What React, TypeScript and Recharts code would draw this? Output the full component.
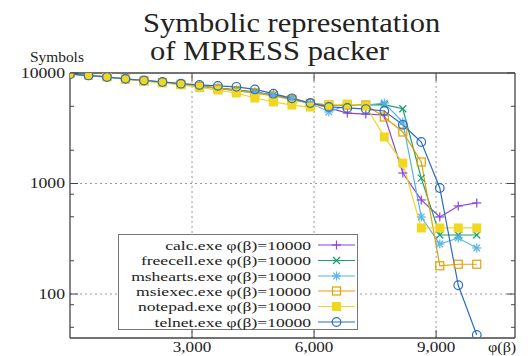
import { LineChart, Line, XAxis, YAxis, ReferenceLine } from "recharts";

// phi(beta) sample positions
const xs = [0, 455, 909, 1364, 1818, 2273, 2727, 3182, 3636, 4091, 4545, 5000, 5455, 5909, 6364, 6818, 7273, 7727, 8182, 8636, 9091, 9545, 10000];

const calc = [9800, 9500, 9200, 8820, 8550, 8290, 7950, 7630, 7310, 7010, 6720, 6320, 5810, 5350, 4830, 4340, 4250, 4170, 1245, 710, 498, 626, 667];
const freecell = [9800, 9500, 9200, 8820, 8550, 8290, 7950, 7630, 7310, 7050, 6720, 6320, 5810, 5300, 5130, 5130, 5150, 5180, 4750, 1120, 342, 342, 342];
const mshearts = [9750, 9450, 9150, 8800, 8500, 8250, 7900, 7600, 7250, 6900, 6600, 6300, 5900, 5350, 4440, 5130, 5130, 5350, 3600, 498, 283, 321, 261];
const msiexec = [9900, 9600, 9250, 8850, 8500, 8200, 7900, 7550, 7250, 6950, 6600, 6200, 5750, 5300, 5130, 5130, 5130, 4000, 2925, 1565, 180, 186, 186];
const notepad = [9900, 9600, 9300, 8800, 8450, 8150, 7800, 7400, 7010, 6590, 5940, 5470, 5130, 4920, 5130, 5240, 5030, 2640, 1530, 396, 396, 396, 396];
const telnet = [9750, 9500, 9200, 8850, 8550, 8300, 8000, 7800, 7650, 7500, 7100, 6500, 5900, 5350, 4930, 4830, 4720, 4530, 3400, 2375, 911, 120, 42.6];

const xTicks = [3000, 6000, 9000];
const yMajor = [100, 1000, 10000];
const yMinor = [50, 80, 200, 500, 800, 2000, 5000];

const series = [
  { key: "calc", label: "calc.exe φ(β)=10000", values: calc, color: "#8e44d6", shape: "plus" },
  { key: "freecell", label: "freecell.exe φ(β)=10000", values: freecell, color: "#1a9e73", shape: "cross" },
  { key: "mshearts", label: "mshearts.exe φ(β)=10000", values: mshearts, color: "#56b4e9", shape: "star" },
  { key: "msiexec", label: "msiexec.exe φ(β)=10000", values: msiexec, color: "#e69f00", shape: "square" },
  { key: "notepad", label: "notepad.exe φ(β)=10000", values: notepad, color: "#efd81f", shape: "fsquare" },
  { key: "telnet", label: "telnet.exe φ(β)=10000", values: telnet, color: "#2b6cc0", shape: "circle" },
];

const data = xs.map((x, i) => {
  const row: any = { x };
  series.forEach(s => { row[s.key] = s.values[i]; });
  return row;
});

const FONT = '"Liberation Serif", "Times New Roman", serif';
const serif = { fontFamily: FONT };
const TXT = "#222";
const AXIS = "#444";

function marker(shape: string, cx: number, cy: number, color: string, key?: any) {
  const sw = 1.2;
  const h = 4.5;
  switch (shape) {
    case "plus":
      return (
        <g key={key}>
          <line x1={cx - h} x2={cx + h} y1={cy} y2={cy} stroke={color} strokeWidth={sw} />
          <line x1={cx} x2={cx} y1={cy - h} y2={cy + h} stroke={color} strokeWidth={sw} />
        </g>
      );
    case "cross":
      return (
        <g key={key}>
          <line x1={cx - 3.5} x2={cx + 3.5} y1={cy - 3.5} y2={cy + 3.5} stroke={color} strokeWidth={sw} />
          <line x1={cx - 3.5} x2={cx + 3.5} y1={cy + 3.5} y2={cy - 3.5} stroke={color} strokeWidth={sw} />
        </g>
      );
    case "star":
      return (
        <g key={key}>
          <line x1={cx - h} x2={cx + h} y1={cy} y2={cy} stroke={color} strokeWidth={sw} />
          <line x1={cx} x2={cx} y1={cy - h} y2={cy + h} stroke={color} strokeWidth={sw} />
          <line x1={cx - 3.3} x2={cx + 3.3} y1={cy - 3.3} y2={cy + 3.3} stroke={color} strokeWidth={sw} />
          <line x1={cx - 3.3} x2={cx + 3.3} y1={cy + 3.3} y2={cy - 3.3} stroke={color} strokeWidth={sw} />
        </g>
      );
    case "square":
      return <rect key={key} x={cx - 4} y={cy - 4} width={8} height={8} fill="none" stroke={color} strokeWidth={sw} />;
    case "fsquare":
      return <rect key={key} x={cx - 4.5} y={cy - 4.5} width={9} height={9} fill={color} />;
    default:
      return <circle key={key} cx={cx} cy={cy} r={4.3} fill="none" stroke={color} strokeWidth={sw} />;
  }
}

const makeDot = (shape: string, color: string) => (props: any) => {
  const { cx, cy, index } = props;
  if (cx == null || cy == null) return <g key={index} />;
  return marker(shape, cx, cy, color, index);
};

const LeftTick = (props: any) => {
  const { x, y, payload } = props;
  const major = yMajor.includes(payload.value);
  return (
    <g>
      <line x1={x} x2={x + (major ? 8 : 4)} y1={y} y2={y} stroke={AXIS} strokeWidth={1} />
      {major && (
        <text transform={`translate(${x - 5},${y}) scale(1.22,1)`} textAnchor="end" dominantBaseline="central"
          style={serif} fontSize={14.5} fill={TXT}>{payload.value}</text>
      )}
    </g>
  );
};

const RightTick = (props: any) => {
  const { x, y, payload } = props;
  const major = yMajor.includes(payload.value);
  return <line x1={x} x2={x - (major ? 8 : 4)} y1={y} y2={y} stroke={AXIS} strokeWidth={1} />;
};

const BottomTick = (props: any) => {
  const { x, y, payload } = props;
  return (
    <g>
      <line x1={x} x2={x} y1={y} y2={y - 8} stroke={AXIS} strokeWidth={1} />
      <text transform={`translate(${x},${y + 9}) scale(1.22,1)`} textAnchor="middle" dominantBaseline="central"
        style={serif} fontSize={14} fill={TXT}>{payload.value.toLocaleString("en-US")}</text>
    </g>
  );
};

const TopTick = (props: any) => {
  const { x, y } = props;
  return <line x1={x} x2={x} y1={y} y2={y + 8} stroke={AXIS} strokeWidth={1} />;
};

const legendRows = [245, 260.5, 276, 291, 306.5, 322];

export default function App() {
  return (
    <div style={{ position: "relative", width: 528, height: 356, background: "#fff" }}>
      <style>{"body{margin:0}"}</style>
      <LineChart width={528} height={356} data={data} margin={{ top: 72, right: 12, bottom: 0, left: 8 }}>
        <XAxis dataKey="x" type="number" domain={[0, 10940]} ticks={xTicks} interval={0}
          allowDataOverflow height={18} tickSize={0} tickMargin={0} tickLine={false}
          axisLine={{ stroke: AXIS, strokeWidth: 1.3 }} tick={<BottomTick />} />
        <XAxis xAxisId="t" orientation="top" dataKey="x" type="number" domain={[0, 10940]} ticks={xTicks}
          interval={0} allowDataOverflow height={1} tickSize={0} tickMargin={0} tickLine={false}
          axisLine={{ stroke: AXIS, strokeWidth: 1.3 }} tick={<TopTick />} />
        <YAxis scale="log" type="number" domain={[40, 10000]} allowDataOverflow width={62}
          ticks={[...yMinor, ...yMajor]} interval={0} tickSize={0} tickMargin={0} tickLine={false}
          axisLine={{ stroke: AXIS, strokeWidth: 1.3 }} tick={<LeftTick />} />
        <YAxis yAxisId="r" orientation="right" scale="log" type="number" domain={[40, 10000]} allowDataOverflow
          width={1} ticks={[...yMinor, ...yMajor]} interval={0} tickSize={0} tickMargin={0} tickLine={false}
          axisLine={{ stroke: AXIS, strokeWidth: 1.3 }} tick={<RightTick />} />
        {xTicks.map(t => (
          <ReferenceLine key={"gx" + t} x={t} stroke="#999" strokeDasharray="2 3" strokeWidth={1} />
        ))}
        {[100, 1000].map(t => (
          <ReferenceLine key={"gy" + t} y={t} stroke="#999" strokeDasharray="2 3" strokeWidth={1} />
        ))}
        {series.map(s => (
          <Line key={s.key} type="linear" dataKey={s.key} stroke={s.color} strokeWidth={1.2}
            dot={makeDot(s.shape, s.color)} activeDot={false} isAnimationActive={false} />
        ))}
      </LineChart>
      <svg width={528} height={356} style={{ position: "absolute", left: 0, top: 0, pointerEvents: "none" }}>
        <text transform="translate(143,32) scale(1.13,1)" style={serif} fontSize={27} fill={TXT}>
          Symbolic representation
        </text>
        <text transform="translate(150,60) scale(1.13,1)" style={serif} fontSize={27} fill={TXT}>
          of MPRESS packer
        </text>
        <text transform="translate(30,62) scale(1.1,1)" style={serif} fontSize={14} fill={TXT}>Symbols</text>
        <text transform="translate(488,352) scale(1.15,1)" style={serif} fontSize={14} fill={TXT}>φ(β)</text>
        <rect x={118.5} y={234.5} width={239} height={95} fill="#fff" stroke="#777" strokeWidth={1} />
        {series.map((s, i) => {
          const y = legendRows[i];
          return (
            <g key={s.key}>
              <text transform={`translate(311,${y}) scale(1.3,1)`} textAnchor="end" dominantBaseline="central"
                style={serif} fontSize={13.5} fill={TXT}>{s.label}</text>
              <line x1={318} x2={355} y1={y} y2={y} stroke={s.color} strokeWidth={1.2} />
              {marker(s.shape, 336.5, y, s.color)}
            </g>
          );
        })}
      </svg>
    </div>
  );
}
